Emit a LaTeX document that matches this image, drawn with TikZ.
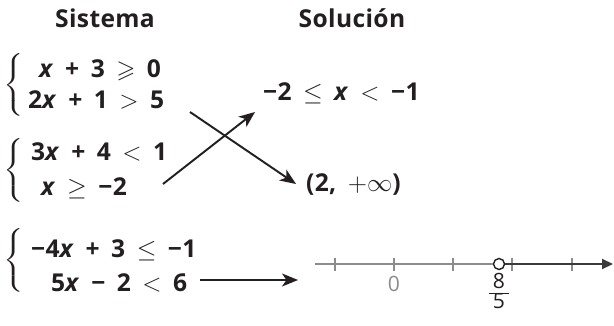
\documentclass[tikz,border=0pt]{standalone}
\usepackage{amsmath,amssymb}
\usepackage{fontspec}
\setmainfont{Open Sans}[LetterSpace=1.5, WordSpace=1.7]
\usetikzlibrary{arrows.meta, positioning, calc}
\definecolor{smInk}{HTML}{231F20}
\definecolor{smGrey}{HTML}{8C8C8C}
\definecolor{smDark}{HTML}{3A3A3A}
\newcommand{\vx}{\textit{x}}
\newcommand{\sysbr}[1]{\scalebox{1.3}[1]{$\left\{\rule[-#1]{0pt}{2\dimexpr#1\relax}\right.$}}
\tikzset{
  heading/.style={font=\fontsize{14}{16}\selectfont\bfseries, text=smInk, inner sep=1pt},
  ineq/.style={heading, anchor=west},
  sysbrace/.style={inner sep=0pt, text=smInk},
  link/.style={-{Stealth[length=3.2mm, width=2.6mm, inset=0.9mm]}, line width=1.1pt, draw=smInk},
  numline/.style={line width=1.1pt, draw=smGrey},
  axtick/.style={line width=0.6pt, draw=smGrey},
  ray/.style={-{Triangle[length=2.2mm, width=2mm]}, line width=1.1pt, draw=smDark},
  axlbl/.style={font=\fontsize{12}{14}\selectfont, inner sep=1pt},
}
\begin{document}
\begin{tikzpicture}
  \useasboundingbox (0,0) rectangle (12.28,-6.5);

  % column heads
  \node[heading] (sis) at (2.10,-0.36) {Sistema};
  \node[heading] (sol) at (7.04,-0.36) {Solución};

  % systems
  \node[sysbrace] (b1) at (0.30,-1.70) {\sysbr{0.55cm}};
  \node[ineq] (L1) at (0.74,-1.40) {\vx{} + 3 $\geqslant$ 0};
  \node[ineq] (L2) at (0.52,-2.00) {2\vx{} + 1 $>$ 5};

  \node[sysbrace] (b2) at (0.30,-3.44) {\sysbr{0.6cm}};
  \node[ineq] (L3) at (0.58,-3.04) {3\vx{} + 4 $<$ 1};
  \node[ineq] (L4) at (0.78,-3.76) {\vx{} $\geq$ −2};

  \node[sysbrace] (b3) at (0.30,-5.24) {\sysbr{0.6cm}};
  \node[ineq] (L5) at (0.58,-5.00) {−4\vx{} + 3 $\leq$ −1};
  \node[ineq] (L6) at (0.98,-5.66) {5\vx{} − 2 $<$ 6};

  % solutions
  \node[ineq] (S1) at (5.22,-1.86) {−2 $\leq$ \vx{} $<$ −1};
  \node[ineq] (S2) at (6.08,-3.70) {(2, $+\infty$)};

  % number line
  \coordinate (nl0) at (6.30,-5.28);
  \coordinate (nl1) at (12.26,-5.28);
  \foreach \t in {6.70,7.88,9.06,10.24,11.44}
    \draw[axtick] (\t,-5.15) -- (\t,-5.41);
  \node[circle, draw=smInk, fill=white, line width=0.8pt, inner sep=0pt, minimum size=0.22cm] (open) at (9.98,-5.28) {};
  \draw[numline] (nl0) -- (open.west);
  \draw[ray] (open.east) -- (nl1);
  \node[axlbl, text=smGrey] (zero) at (7.88,-5.68) {0};
  \node[axlbl, text=smInk, anchor=north] (frac) at (9.98,-5.42)
    {\renewcommand{\arraystretch}{0.8}\begin{tabular}{@{\,}c@{\,}}8\\[-1pt]\hline 5\end{tabular}};

  % matching arrows
  \draw[link] ([shift={(3.28,-0.24)}]L2.west) -- ([shift={(-0.16,0.02)}]S2.west);
  \draw[link] ([shift={(2.48,0.08)}]L4.west) -- ([shift={(-0.12,-0.38)}]S1.west);
  \draw[link] ([shift={(3.02,0.06)}]L6.west) -- ([shift={(-0.34,-0.32)}]nl0);
\end{tikzpicture}
\end{document}
